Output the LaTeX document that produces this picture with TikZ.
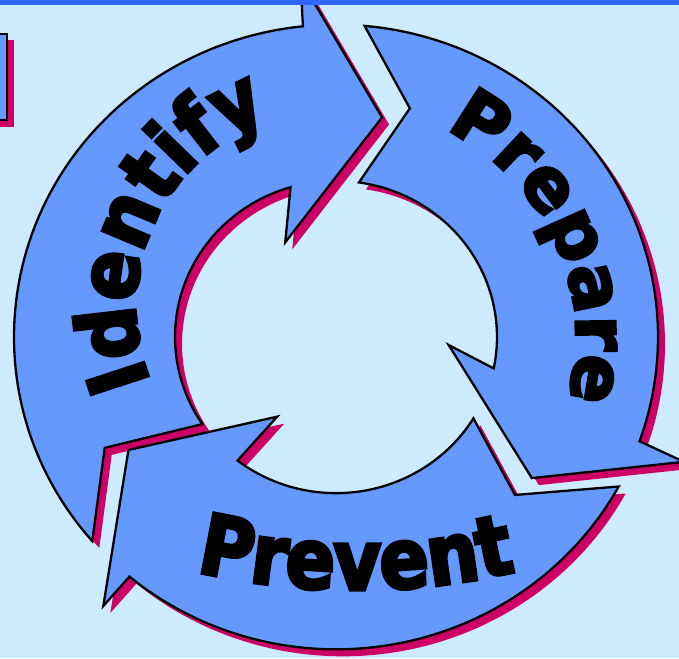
\documentclass[tikz,border=0pt]{standalone}
\usepackage{fontspec}
\newfontfamily\arrowfont{DejaVu Sans}[BoldFeatures={FakeBold=4}]
\newfontfamily\archfont{DejaVu Sans}[FakeStretch=0.9, BoldFeatures={FakeBold=4}]
\newfontfamily\lowfont{DejaVu Sans}[FakeStretch=0.87, BoldFeatures={FakeBold=4}]
\usetikzlibrary{decorations.text}
\definecolor{bgblue}{HTML}{CCEBFF}
\definecolor{barblue}{HTML}{3366FF}
\definecolor{arrowblue}{HTML}{6699FF}
\definecolor{shadowred}{HTML}{CC0066}
\tikzset{
 arrowshape/.style={fill=arrowblue, draw=black, line width=2.3pt, line join=miter},
 shadowshape/.style={fill=shadowred},
 identifyp/.style={insert path={(220.8:322) arc[start angle=220.8, end angle=95.9, radius=322] -- (95.5:370) -- (78.5:231) -- (117.5:110) -- (106.4:161) arc[start angle=106.4, end angle=213.9, radius=161] -- (206.3:258) -- cycle}},
 preparep/.style={insert path={(84.9:322) arc[start angle=84.9, end angle=-19.5, radius=322] -- (-20.3:371) -- (-36.6:244) -- (-4.2:113) -- (-11.6:161) arc[start angle=-11.6, end angle=81.8, radius=161] -- (72.6:247) -- cycle}},
 preventp/.style={insert path={(-28.6:322) arc[start angle=-28.6, end angle=-129.9, radius=322] -- (-130:362) -- (-150.7:238) -- (-125.6:101) -- (-127.7:161) arc[start angle=-127.7, end angle=-31.4, radius=161] -- (-42.3:242) -- cycle}},
 wordstyle/.style={decorate, decoration={text along path, text align=center, text={#1}}}
}
\begin{document}
\begin{tikzpicture}[x=1pt,y=1pt]
\useasboundingbox (0,0) rectangle (679,658);
\clip (0,0) rectangle (679,658);
\fill[bgblue] (0,0) rectangle (679,658);
% top-left box
\fill[shadowred] (-3,618) rectangle (14,531);
\draw[arrowshape] (-10,624) rectangle (7,538);
% shadows
\begin{scope}[shift={(343,314)}, yscale=0.97]
 \fill[shadowshape, identifyp];
 \fill[shadowshape, preparep];
 \fill[shadowshape, preventp];
\end{scope}
% arrows
\begin{scope}[shift={(336,321)}, yscale=0.97]
 \draw[arrowshape, identifyp];
 \draw[arrowshape, preparep];
 \draw[arrowshape, preventp];
 \path[wordstyle={|\arrowfont\bfseries\fontsize{72}{72}\selectfont|Prepare}] (83.5:240) arc[start angle=83.5, end angle=-36.5, radius=240];
\end{scope}
\begin{scope}[shift={(336,351)}]
 \path[wordstyle={|\archfont\bfseries\fontsize{82}{82}\selectfont|Identify}] (215.7:200) arc[start angle=215.7, end angle=95.7, radius=200];
\end{scope}
\begin{scope}[shift={(356,768)}]
 \path[wordstyle={|\lowfont\bfseries\fontsize{84}{84}\selectfont|Prevent}] (-110:700) arc[start angle=-110, end angle=-70, radius=700];
\end{scope}
% top bar
\fill[barblue] (0,653) rectangle (679,658);
\end{tikzpicture}
\end{document}
